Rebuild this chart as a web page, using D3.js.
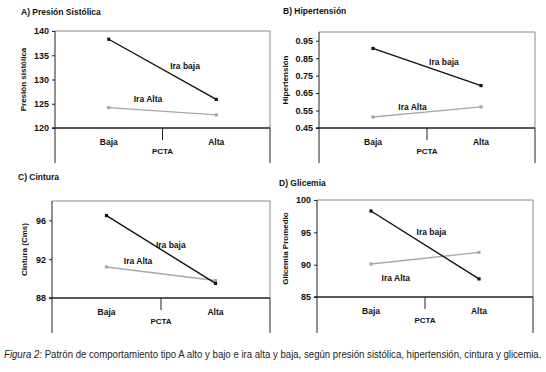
<!DOCTYPE html>
<html>
<head>
<meta charset="utf-8">
<script src="https://cdn.jsdelivr.net/npm/d3@7"></script>
<style>
  body { margin: 0; background: #fff; }
  text { font-family: "Liberation Sans", Arial, sans-serif; }
</style>
</head>
<body>
<div id="chart"></div>
<script>
// data
var categories = ["Baja", "Alta"];
var seriesNames = ["Ira baja", "Ira Alta"];

var presionBaja = [138.3, 125.9];
var presionAlta = [124.2, 122.7];
var hiperBaja = [0.906, 0.693];
var hiperAlta = [0.513, 0.571];
var cinturaBaja = [96.5, 89.5];
var cinturaAlta = [91.2, 89.8];
var glicemiaBaja = [98.3, 87.8];
var glicemiaAlta = [90.1, 91.9];

var presionTicks = [120, 125, 130, 135, 140];
var hiperTicks = [0.45, 0.55, 0.65, 0.75, 0.85, 0.95];
var cinturaTicks = [88, 92, 96];
var glicemiaTicks = [85, 90, 95, 100];

var w = 546;
var h = 372;

var svg = d3.select("#chart")
  .append("svg")
  .attr("width", w)
  .attr("height", h);

var panels = [
  { title: "A) Presión Sistólica", ytitle: "Presión sistólica", baja: presionBaja, alta: presionAlta,
    domain: [120, 140], ticks: presionTicks, fmt: d3.format("d"),
    left: 55, right: 270, top: 31, axis: 128, bottom: 163, titleX: 21, titleY: 15, ytitleX: 26,
    lblBaja: [0.71, 132.8], lblAlta: [0.365, 126.0] },
  { title: "B) Hipertensión", ytitle: "Hipertensión", baja: hiperBaja, alta: hiperAlta,
    domain: [0.45, 1.0], ticks: hiperTicks, fmt: d3.format(".2f"),
    left: 319, right: 535, top: 32, axis: 128, bottom: 163, titleX: 283, titleY: 14, ytitleX: 288,
    lblBaja: [0.657, 0.827], lblAlta: [0.366, 0.568] },
  { title: "C) Cintura", ytitle: "Cintura (Cms)", baja: cinturaBaja, alta: cinturaAlta,
    domain: [88, 98], ticks: cinturaTicks, fmt: d3.format("d"),
    left: 52, right: 270, top: 201, axis: 298, bottom: 333, titleX: 18, titleY: 180, ytitleX: 27,
    lblBaja: [0.59, 93.45], lblAlta: [0.29, 91.8] },
  { title: "D) Glicemia", ytitle: "Glicemia Promedio", baja: glicemiaBaja, alta: glicemiaAlta,
    domain: [85, 100], ticks: glicemiaTicks, fmt: d3.format("d"),
    left: 317, right: 533, top: 200, axis: 297, bottom: 333, titleX: 279, titleY: 186, ytitleX: 288,
    lblBaja: [0.56, 95.0], lblAlta: [0.23, 88.0] }
];

var colors = { "Ira baja": "#111", "Ira Alta": "#a8a8a8" };

panels.forEach(function(p) {
  var g = svg.append("g");

  var xscale = d3.scaleBand()
    .domain(categories)
    .range([p.left, p.right]);

  // 0 = Baja center, 1 = Alta center (for annotation placement)
  var tscale = d3.scaleLinear()
    .domain([0, 1])
    .range([xscale("Baja") + xscale.bandwidth() / 2, xscale("Alta") + xscale.bandwidth() / 2]);

  var yscale = d3.scaleLinear()
    .domain(p.domain)
    .range([p.axis, p.top]);

  // plot area border (top + right)
  g.append("path")
    .attr("d", "M" + p.left + "," + p.top + "H" + p.right + "V" + p.axis)
    .style("fill", "none")
    .style("stroke", "#8a8a8a")
    .style("stroke-width", 1);

  // right lower border
  g.append("line")
    .attr("x1", p.right).attr("x2", p.right)
    .attr("y1", p.axis).attr("y2", p.bottom)
    .style("stroke", "#222");

  // left lower line
  g.append("line")
    .attr("x1", p.left).attr("x2", p.left)
    .attr("y1", p.axis).attr("y2", p.bottom)
    .style("stroke", "#222");

  // y axis
  var yaxis = d3.axisLeft()
    .scale(yscale)
    .tickValues(p.ticks)
    .tickFormat(p.fmt)
    .tickSize(3)
    .tickPadding(3);

  var ya = g.append("g")
    .attr("transform", "translate(" + p.left + ",0)")
    .call(yaxis);
  ya.select(".domain").remove();
  ya.append("line")
    .attr("x1", 0).attr("x2", 0)
    .attr("y1", p.top).attr("y2", p.axis)
    .style("stroke", "#222");
  ya.selectAll("line").style("stroke", "#222");
  ya.selectAll("text")
    .style("font-size", "9px")
    .style("font-weight", "bold")
    .style("fill", "#111");

  // x axis line
  g.append("line")
    .attr("x1", p.left - 3).attr("x2", p.right)
    .attr("y1", p.axis).attr("y2", p.axis)
    .style("stroke", "#222")
    .style("stroke-width", 1.4);

  // middle tick between categories
  g.append("line")
    .attr("x1", xscale("Alta")).attr("x2", xscale("Alta"))
    .attr("y1", p.axis).attr("y2", p.axis + 12)
    .style("stroke", "#222");

  g.selectAll(".cat")
    .data(categories)
    .enter().append("text")
    .attr("x", function(d) { return xscale(d) + xscale.bandwidth() / 2; })
    .attr("y", p.axis + 17)
    .attr("text-anchor", "middle")
    .style("font-size", "8.5px")
    .style("font-weight", "bold")
    .style("fill", "#111")
    .text(function(d) { return d; });

  g.append("text")
    .attr("x", xscale("Alta"))
    .attr("y", p.axis + 26)
    .attr("text-anchor", "middle")
    .style("font-size", "8px")
    .style("font-weight", "bold")
    .style("fill", "#111")
    .text("PCTA");

  // panel title
  g.append("text")
    .attr("x", p.titleX)
    .attr("y", p.titleY)
    .style("font-size", "8.5px")
    .style("font-weight", "bold")
    .style("fill", "#111")
    .text(p.title);

  // y title
  g.append("text")
    .attr("transform", "translate(" + p.ytitleX + "," + yscale((p.domain[0] + p.domain[1]) / 2) + ") rotate(-90)")
    .attr("text-anchor", "middle")
    .style("font-size", "8px")
    .style("font-weight", "bold")
    .style("fill", "#111")
    .text(p.ytitle);

  var series = [
    { name: seriesNames[1], values: p.alta, lbl: p.lblAlta },
    { name: seriesNames[0], values: p.baja, lbl: p.lblBaja }
  ];

  var line = d3.line()
    .x(function(d, i) { return xscale(categories[i]) + xscale.bandwidth() / 2; })
    .y(function(d) { return yscale(d); });

  series.forEach(function(s) {
    g.append("path")
      .datum(s.values)
      .style("fill", "none")
      .style("stroke", colors[s.name])
      .style("stroke-width", 1.4)
      .attr("d", line);

    g.selectAll(".pt")
      .data(s.values)
      .enter().append("rect")
      .attr("x", function(d, i) { return xscale(categories[i]) + xscale.bandwidth() / 2 - 1.6; })
      .attr("y", function(d) { return yscale(d) - 1.6; })
      .attr("width", 3.2)
      .attr("height", 3.2)
      .style("fill", colors[s.name]);

    g.append("text")
      .attr("x", tscale(s.lbl[0]))
      .attr("y", yscale(s.lbl[1]) + 3)
      .attr("text-anchor", "middle")
      .style("font-size", "8.5px")
      .style("font-weight", "bold")
      .style("fill", "#111")
      .text(s.name);
  });
});

// caption, squeezed horizontally to look like a narrow face
var cap = svg.append("text")
  .attr("x", 0)
  .attr("y", 0)
  .style("font-size", "10.5px")
  .style("fill", "#222");
cap.append("tspan")
  .style("font-style", "italic")
  .text("Figura 2:");
cap.append("tspan")
  .text(" Patrón de comportamiento tipo A alto y bajo e ira alta y baja, según presión sistólica, hipertensión, cintura y glicemia.");
var capLen = cap.node().getComputedTextLength();
var sx = Math.min(1, 538 / capLen);
cap.attr("transform", "translate(4,358) scale(" + sx + ",1)");
</script>
</body>
</html>
